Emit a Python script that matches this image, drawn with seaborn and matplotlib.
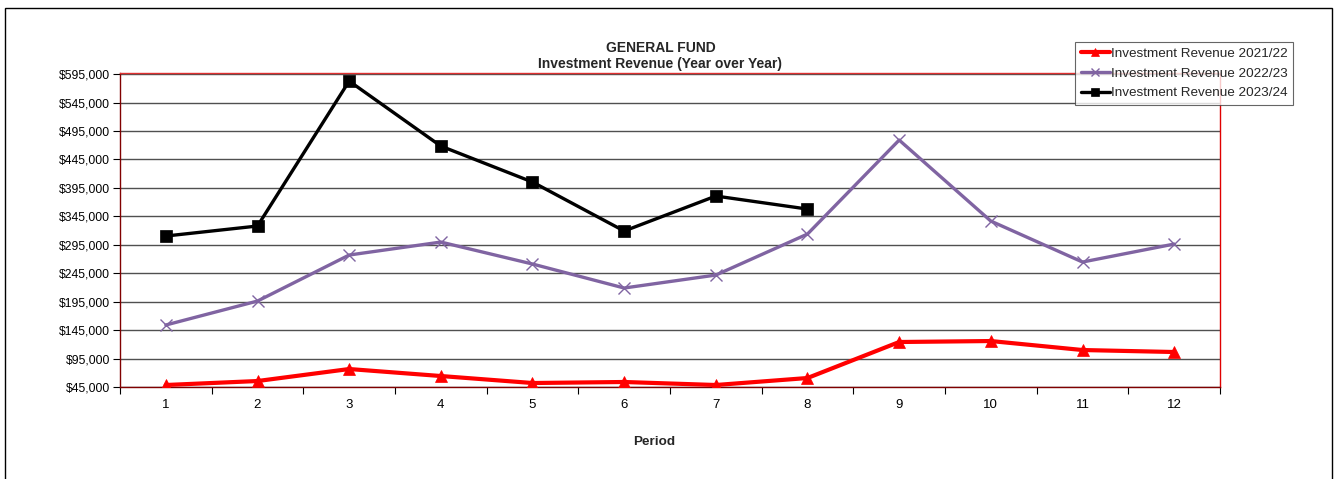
import matplotlib
matplotlib.use("Agg")
import matplotlib.pyplot as plt
import matplotlib.patches as mpatches
from matplotlib.ticker import FuncFormatter, FixedLocator
import seaborn as sns
import pandas as pd

periods = list(range(1, 13))
rev_2021_22 = [48500, 55500, 76600, 64300, 52000, 53800, 48500, 60800, 124100, 125800, 110000, 106500]
rev_2022_23 = [154000, 196100, 277000, 299800, 261200, 219000, 241800, 313900, 479100, 336700, 264700, 296300]
rev_2023_24 = [310400, 328000, 582800, 468500, 405300, 319200, 380700, 357800]
series_names = ["Investment Revenue 2021/22", "Investment Revenue 2022/23", "Investment Revenue 2023/24"]
y_ticks = list(range(45000, 595001, 50000))

rows = []
for name, vals in zip(series_names, [rev_2021_22, rev_2022_23, rev_2023_24]):
    for p, v in zip(periods, vals):
        rows.append({"Period": p, "Value": v, "Series": name})
df = pd.DataFrame(rows)

sns.set_theme(style="white")
plt.rcParams["font.family"] = ["Liberation Sans", "DejaVu Sans"]

fig = plt.figure(figsize=(13.36, 4.79), dpi=100)
ax = fig.add_axes([120/1336, 1-387/479, 1100/1336, 314/479])

palette = {series_names[0]: "#ff0000", series_names[1]: "#8064a2", series_names[2]: "#000000"}
markers = {series_names[0]: "^", series_names[1]: "x", series_names[2]: "s"}
sizes = {series_names[0]: 9, series_names[1]: 8, series_names[2]: 8}
widths = {series_names[0]: 3.0, series_names[1]: 2.4, series_names[2]: 2.4}

for name in series_names:
    sub = df[df["Series"] == name]
    sns.lineplot(data=sub, x="Period", y="Value", ax=ax, color=palette[name],
                 marker=markers[name], markersize=sizes[name], linewidth=widths[name],
                 markeredgecolor=palette[name],
                 markeredgewidth=1.0 if name == series_names[1] else 0.5,
                 label=name, zorder=3)

ax.set_xlim(0.5, 12.5)
ax.set_ylim(45000, 597000)
ax.set_yticks(y_ticks)
ax.yaxis.set_major_formatter(FuncFormatter(lambda v, p: f"${int(v):,}"))
ax.set_xticks(periods)
ax.set_xticklabels([str(p) for p in periods])
ax.xaxis.set_minor_locator(FixedLocator([i + 0.5 for i in range(0, 13)]))
ax.tick_params(axis="x", which="major", length=0, labelsize=9.5, pad=9, colors="#000000")
ax.tick_params(axis="x", which="minor", length=5, width=0.8, color="#000000", direction="out", bottom=True)
ax.tick_params(axis="y", which="major", length=5, width=0.8, color="#000000", direction="out",
               labelsize=8.7, pad=2, left=True, labelcolor="#000000")

ax.grid(axis="y", color="#505050", linewidth=1.0, zorder=0)
ax.grid(axis="x", visible=False)
ax.set_axisbelow(True)

ax.spines["left"].set_color("#800000")
ax.spines["bottom"].set_color("#800000")
ax.spines["top"].set_color("#e03030")
ax.spines["right"].set_color("#e00000")
for s in ax.spines.values():
    s.set_linewidth(1.0)
    s.set_visible(True)

ax.set_xlabel("")
ax.set_ylabel("")
fig.text(654/1336, 1-442/479, "Period", ha="center", va="center", fontsize=9.7, fontweight="bold")

fig.text(661/1336, 1-48/479, "GENERAL FUND", ha="center", va="center", fontsize=10, fontweight="bold")
fig.text(660/1336, 1-64/479, "Investment Revenue (Year over Year)", ha="center", va="center", fontsize=10, fontweight="bold")

leg = ax.legend(loc="upper right", bbox_to_anchor=(1293/1336, 1-42/479), bbox_transform=fig.transFigure,
                frameon=True, fancybox=False, fontsize=9.7, handlelength=2.2, handletextpad=0.05,
                borderpad=0.4, labelspacing=0.55, borderaxespad=0)
leg.get_frame().set_edgecolor("#404040")
leg.get_frame().set_linewidth(0.8)
for h in leg.legend_handles:
    h.set_markersize(6)

border = mpatches.Rectangle((5/1336, -0.01), 1327/1336, 1-8/479 + 0.01, transform=fig.transFigure,
                            fill=False, edgecolor="#000000", linewidth=1.0)
fig.patches.append(border)

fig.savefig("out.png", dpi=100)
